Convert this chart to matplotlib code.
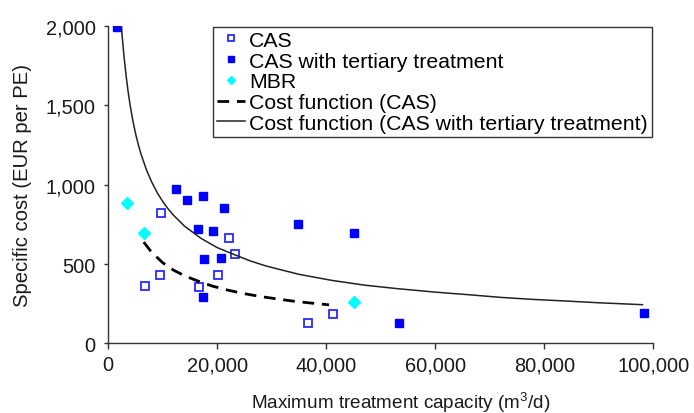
import numpy as np
import matplotlib.pyplot as plt

plt.rcParams['font.family'] = ['Liberation Sans', 'DejaVu Sans']
plt.rcParams['mathtext.default'] = 'regular'

# CAS (open squares)
cas_x = [9700, 6700, 9400, 16600, 20100, 22100, 23300, 36600, 41200]
cas_y = [823, 359, 433, 357, 433, 666, 565, 126, 187]

# CAS with tertiary treatment (filled squares)
tert_x = [1650, 12400, 14500, 17300, 21200, 16500, 19200, 17600, 20600, 17400,
          34800, 45100, 53300, 98200]
tert_y = [1990, 975, 905, 928, 855, 723, 708, 534, 540, 292,
          752, 693, 126, 193]

# MBR (diamonds)
mbr_x = [3500, 6500, 45100]
mbr_y = [884, 693, 263]

# cost function (CAS)
cf_cas_x = [6500, 8000, 10000, 12000, 14000, 16500, 19000, 22000, 25000,
            28000, 31000, 34000, 37000, 40500]
cf_cas_y = [638, 572, 508, 461, 426, 392, 362, 335, 313, 295, 280, 266, 255, 243]

# cost function (CAS with tertiary treatment)
cf_tert_x = [2400, 2600, 2800, 3000, 3300, 3600, 4000, 4500, 5000, 5500,
             6000, 7000, 8000, 9000, 10000, 11000, 12000, 14000, 17000,
             20000, 23000, 26000, 29000, 35000, 41000, 47000, 53000, 60000,
             66000, 72000, 78000, 84000, 90000, 98000]
cf_tert_y = [2000, 1915, 1840, 1770, 1678, 1595, 1502, 1404, 1322, 1253,
             1193, 1093, 1014, 948, 893, 846, 806, 738, 662,
             603, 561, 520, 487, 435, 397, 367, 345, 323,
             307, 290, 277, 267, 256, 244]

fig = plt.figure(figsize=(6.94, 4.14), dpi=100)
ax = fig.add_axes([0.156, 0.168, 0.7854, 0.7675])

ax.plot(cas_x, cas_y, 's', ms=6.2, mfc='white', mec='#2a2aff', mew=1.3,
        ls='none', label='CAS')
ax.plot(tert_x, tert_y, 's', ms=6.2, color='#0000ff', ls='none',
        label='CAS with tertiary treatment')
ax.plot(mbr_x, mbr_y, 'D', ms=6.0, color='#00ffff', ls='none', label='MBR')
ln, = ax.plot(cf_cas_x, cf_cas_y, color='black', lw=2.0,
              label='Cost function (CAS)')
ln.set_dashes((4.2, 2.8))
ax.plot(cf_tert_x, cf_tert_y, color='#222222', lw=1.1,
        label='Cost function (CAS with tertiary treatment)')

ax.set_xlim(0, 100000)
ax.set_ylim(0, 2000)
ax.set_xticks([0, 20000, 40000, 60000, 80000, 100000])
ax.set_yticks([0, 500, 1000, 1500, 2000])
ax.set_xticklabels(['0', '20,000', '40,000', '60,000', '80,000', '100,000'])
ax.set_yticklabels(['0', '500', '1,000', '1,500', '2,000'])
ax.tick_params(labelsize=14.4, width=1, color='#333333',
               labelcolor='#1a1a1a')
ax.tick_params(axis='x', length=4.5, pad=4)
ax.tick_params(axis='y', length=3, pad=6)
for s in ['top', 'right']:
    ax.spines[s].set_visible(False)
for s in ['left', 'bottom']:
    ax.spines[s].set_color('#333333')
    ax.spines[s].set_linewidth(1)

ax.set_xlabel('Maximum treatment capacity (m$^3$/d)', fontsize=13.6,
              labelpad=11, color='#1a1a1a')
ax.xaxis.label.set_x(0.537)
ax.set_ylabel('Specific cost (EUR per PE)', fontsize=14.6, labelpad=10,
              color='#1a1a1a')

leg = ax.legend(loc='upper left', bbox_to_anchor=(0.192, 0.997),
                fontsize=15.3, frameon=True, fancybox=False, framealpha=1,
                edgecolor='#333333', borderpad=0.2, labelspacing=0.08,
                handlelength=1.3, handletextpad=0.2, markerscale=0.75,
                borderaxespad=0)
leg.get_frame().set_linewidth(1)

fig.savefig('out.png', dpi=100)
